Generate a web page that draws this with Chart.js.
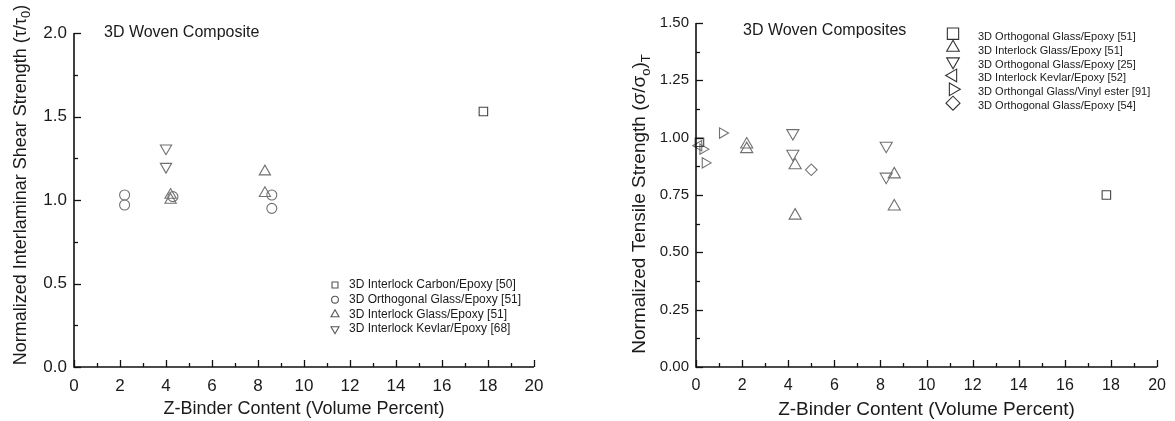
<!DOCTYPE html>
<html lang="en">
<head>
<meta charset="UTF-8">
<title>3D Woven Composites - Z-Binder Content</title>
<script src="https://cdn.jsdelivr.net/npm/chart.js@4.4.1/dist/chart.umd.min.js"></script>
<style>
  html, body { margin: 0; padding: 0; background: #fff; }
  .box { position: absolute; top: 0; height: 421px; }
  #leftBox { left: 0; width: 590px; }
  #rightBox { left: 590px; width: 585px; }
</style>
</head>
<body>
<div class="box" id="leftBox"><canvas id="ilss"></canvas></div>
<div class="box" id="rightBox"><canvas id="tensile"></canvas></div>
<script>
// ---- left panel: interlaminar shear strength ----
const xTickLabels = [0, 2, 4, 6, 8, 10, 12, 14, 16, 18, 20];

const ilssCarbonX = [17.8];
const ilssCarbonY = [1.53];
const ilssOrthoGlassX = [2.2, 2.2, 4.3, 8.6, 8.6];
const ilssOrthoGlassY = [1.03, 0.97, 1.02, 1.03, 0.95];
const ilssInterGlassX = [4.2, 4.2, 8.3, 8.3];
const ilssInterGlassY = [1.03, 1.0, 1.17, 1.04];
const ilssKevlarX = [4.0, 4.0];
const ilssKevlarY = [1.31, 1.2];

// ---- right panel: tensile strength ----
const tsOrthoGlass51X = [0.15, 17.8];
const tsOrthoGlass51Y = [0.98, 0.75];
const tsInterGlass51X = [2.2, 2.2, 4.3, 4.3, 8.6, 8.6];
const tsInterGlass51Y = [0.97, 0.95, 0.88, 0.66, 0.84, 0.70];
const tsOrthoGlass25X = [4.2, 4.2, 8.25, 8.25];
const tsOrthoGlass25Y = [1.02, 0.93, 0.965, 0.83];
const tsKevlar52X = [0.12];
const tsKevlar52Y = [0.965];
const tsVinylX = [1.15, 0.3, 0.4];
const tsVinylY = [1.02, 0.95, 0.89];
const tsOrthoGlass54X = [5.0];
const tsOrthoGlass54Y = [0.86];

const FONT = '"Liberation Sans", Arial, Helvetica, sans-serif';
const INK = '#1a1a1a';
const MARK = '#707070';

function pts(xs, ys) {
    return xs.map((x, i) => ({ x: x, y: ys[i] }));
}

function series(label, xs, ys, style, rotation, radius, legendRadius, color) {
    return {
        label: label,
        data: pts(xs, ys),
        pointStyle: style,
        rotation: rotation,
        pointRadius: radius,
        pointHoverRadius: radius,
        pointBorderWidth: 1.1,
        pointBorderColor: color || MARK,
        pointBackgroundColor: 'rgba(0,0,0,0)',
        borderColor: color || MARK,
        legendRadius: legendRadius,
        clip: false,
        showLine: false
    };
}

// axes with inward ticks, titles with subscripts, inner legend
const decor = {
    id: 'decor',
    afterDraw(chart, args, o) {
        const ctx = chart.ctx;
        const a = chart.chartArea;
        const sx = chart.scales.x, sy = chart.scales.y;
        ctx.save();
        ctx.strokeStyle = '#111';
        ctx.lineWidth = 1.6;
        ctx.beginPath();
        ctx.moveTo(a.left, a.top);
        ctx.lineTo(a.left, a.bottom);
        ctx.lineTo(a.right, a.bottom);
        ctx.stroke();

        ctx.lineWidth = 1.3;
        const isMajor = (v, step) => Math.abs(v / step - Math.round(v / step)) < 1e-6;
        for (let v = sx.min; v <= sx.max + 1e-9; v += o.xMinor) {
            const p = Math.round(sx.getPixelForValue(v)) + 0.5;
            const len = isMajor(v, o.xMajor) ? 7 : 4;
            ctx.beginPath();
            ctx.moveTo(p, a.bottom);
            ctx.lineTo(p, a.bottom - len);
            ctx.stroke();
        }
        for (let v = sy.min; v <= sy.max + 1e-9; v += o.yMinor) {
            const p = Math.round(sy.getPixelForValue(v)) + 0.5;
            const len = isMajor(v, o.yMajor) ? 7 : 4;
            ctx.beginPath();
            ctx.moveTo(a.left, p);
            ctx.lineTo(a.left + len, p);
            ctx.stroke();
        }

        ctx.fillStyle = INK;
        ctx.textBaseline = 'middle';

        // x axis title
        ctx.font = o.xTitleSize + 'px ' + FONT;
        ctx.textAlign = 'center';
        ctx.fillText(o.xTitle, (a.left + a.right) / 2, o.xTitleY);

        // y axis title, rotated, with subscripts
        const main = o.yTitleSize + 'px ' + FONT;
        const small = Math.round(o.yTitleSize * 0.7) + 'px ' + FONT;
        let total = 0;
        o.yTitle.forEach(s => {
            ctx.font = s.sub ? small : main;
            total += ctx.measureText(s.t).width;
        });
        ctx.save();
        ctx.translate(o.yTitleX, o.yTitleMid);
        ctx.rotate(-Math.PI / 2);
        ctx.textAlign = 'left';
        let pos = -total / 2;
        o.yTitle.forEach(s => {
            ctx.font = s.sub ? small : main;
            ctx.fillText(s.t, pos, s.sub ? o.yTitleSize * 0.32 : 0);
            pos += ctx.measureText(s.t).width;
        });
        ctx.restore();

        // inner caption
        ctx.font = o.captionSize + 'px ' + FONT;
        ctx.textAlign = 'left';
        ctx.fillText(o.caption, o.captionX, o.captionY);

        // legend
        const lg = o.legend;
        chart.data.datasets.forEach((ds, i) => {
            const ty = lg.y + i * lg.dy;
            ctx.strokeStyle = lg.markColor || ds.pointBorderColor;
            ctx.fillStyle = 'rgba(0,0,0,0)';
            ctx.lineWidth = 1.1;
            Chart.helpers.drawPoint(ctx, {
                pointStyle: ds.pointStyle,
                rotation: ds.rotation,
                radius: ds.legendRadius,
                borderWidth: 1.1
            }, lg.markX, ty + lg.markDy);
            ctx.fillStyle = INK;
            ctx.font = lg.size + 'px ' + FONT;
            ctx.textAlign = 'left';
            ctx.textBaseline = 'middle';
            ctx.fillText(ds.label, lg.textX, ty);
        });
        ctx.restore();
    }
};

function makeScales(yMax, yStep, yDigits, yWidth, xFont, yFont) {
    return {
        x: {
            type: 'linear', min: 0, max: 20,
            ticks: {
                stepSize: 2, color: INK, padding: 9, maxRotation: 0, autoSkip: false,
                font: { family: FONT, size: xFont }
            },
            grid: { display: false, drawTicks: false },
            border: { display: false },
            afterFit: s => { s.height = 54; }
        },
        y: {
            type: 'linear', min: 0, max: yMax,
            ticks: {
                stepSize: yStep, color: INK, padding: 7,
                font: { family: FONT, size: yFont },
                callback: v => Number(v).toFixed(yDigits)
            },
            grid: { display: false, drawTicks: false },
            border: { display: false },
            afterFit: s => { s.width = yWidth; }
        }
    };
}

Chart.defaults.font.family = FONT;
Chart.defaults.color = INK;

new Chart(document.getElementById('ilss'), {
    type: 'scatter',
    data: {
        datasets: [
            series('3D Interlock Carbon/Epoxy [50]', ilssCarbonX, ilssCarbonY, 'rect', 0, 6, 4.2, '#444'),
            series('3D Orthogonal Glass/Epoxy [51]', ilssOrthoGlassX, ilssOrthoGlassY, 'circle', 0, 5, 3.4),
            series('3D Interlock Glass/Epoxy [51]', ilssInterGlassX, ilssInterGlassY, 'triangle', 0, 6.5, 4.6),
            series('3D Interlock Kevlar/Epoxy [68]', ilssKevlarX, ilssKevlarY, 'triangle', 180, 6.5, 4.6)
        ]
    },
    options: {
        responsive: true,
        maintainAspectRatio: false,
        animation: false,
        events: [],
        layout: { padding: { left: 0, top: 33, right: 56, bottom: 0 } },
        scales: makeScales(2, 0.5, 1, 74, 17, 17),
        plugins: {
            legend: { display: false },
            tooltip: { enabled: false },
            decor: {
                xMajor: 2, xMinor: 1, yMajor: 0.5, yMinor: 0.25,
                xTitle: 'Z-Binder Content (Volume Percent)', xTitleSize: 18, xTitleY: 409,
                yTitle: [{ t: 'Normalized Interlaminar Shear Strength (\u03C4/\u03C4' }, { t: '0', sub: true }, { t: ')' }],
                yTitleSize: 18, yTitleX: 21, yTitleMid: 185,
                caption: '3D Woven Composite', captionSize: 16, captionX: 104, captionY: 33,
                legend: { markX: 335, textX: 349, y: 285, dy: 14.7, markDy: 0, size: 12, markColor: '#555' }
            }
        }
    },
    plugins: [decor]
});

new Chart(document.getElementById('tensile'), {
    type: 'scatter',
    data: {
        datasets: [
            series('3D Orthogonal Glass/Epoxy [51]', tsOrthoGlass51X, tsOrthoGlass51Y, 'rect', 0, 6, 8, '#444'),
            series('3D Interlock Glass/Epoxy [51]', tsInterGlass51X, tsInterGlass51Y, 'triangle', 0, 7, 7.3),
            series('3D Orthogonal Glass/Epoxy [25]', tsOrthoGlass25X, tsOrthoGlass25Y, 'triangle', 180, 7, 7.3),
            series('3D Interlock Kevlar/Epoxy [52]', tsKevlar52X, tsKevlar52Y, 'triangle', 270, 6, 7.3),
            series('3D Orthongal Glass/Vinyl ester [91]', tsVinylX, tsVinylY, 'triangle', 90, 6, 7.3),
            series('3D Orthogonal Glass/Epoxy [54]', tsOrthoGlass54X, tsOrthoGlass54Y, 'rectRot', 0, 5.8, 7)
        ]
    },
    options: {
        responsive: true,
        maintainAspectRatio: false,
        animation: false,
        events: [],
        layout: { padding: { left: 0, top: 23, right: 12, bottom: 0 } },
        scales: makeScales(1.5, 0.25, 2, 106, 16, 15),
        plugins: {
            legend: { display: false },
            tooltip: { enabled: false },
            decor: {
                xMajor: 2, xMinor: 1, yMajor: 0.25, yMinor: 0.125,
                xTitle: 'Z-Binder Content (Volume Percent)', xTitleSize: 19, xTitleY: 410,
                yTitle: [{ t: 'Normalized Tensile Strength (\u03C3/\u03C3' }, { t: 'o', sub: true }, { t: ')' }, { t: 'T', sub: true }],
                yTitleSize: 19, yTitleX: 50, yTitleMid: 204,
                caption: '3D Woven Composites', captionSize: 16, captionX: 153, captionY: 31,
                legend: { markX: 363, textX: 388, y: 36.7, dy: 13.9, markDy: -3, size: 11, markColor: '#333' }
            }
        }
    },
    plugins: [decor]
});
</script>
</body>
</html>
